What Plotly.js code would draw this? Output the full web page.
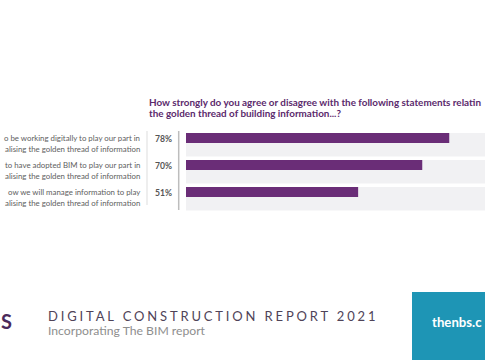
<!DOCTYPE html>
<html>
<head>
<meta charset="utf-8">
<script src="https://cdn.plot.ly/plotly-3.0.1.min.js"></script>
<style>html,body{margin:0;padding:0;background:#fff;}#chart{width:485px;height:360px;}</style>
</head>
<body>
<div id="chart"></div>
<script>
// ---- data ----
var categories = ["digital", "bim", "manage"];
var labelLine1 = ["o be working digitally to play our part in", "to have adopted BIM to play our part in", "ow we will manage information to play"];
var labelLine2 = ["alising the golden thread of information", "alising the golden thread of information", "alising the golden thread of information"];
var values = [78, 70, 51];
var fullScale = [100, 100, 100];
var valueLabels = ["78%", "70%", "51%"];
var titleLines = ["How strongly do you agree or disagree with the following statements relatin", "the golden thread of building information...?"];

// ---- layout helpers (pixels -> paper) ----
var W = 485, H = 360;
function px(x){ return x / W; }
function py(y){ return 1 - y / H; }

var purple = "#6a2d77";
var traces = [
  {type: "bar", orientation: "h", y: categories, x: fullScale, marker: {color: "#f1f1f3", line: {width: 0}},
   width: 0.87, offset: -0.43, hoverinfo: "skip", showlegend: false},
  {type: "bar", orientation: "h", y: categories, x: values, marker: {color: purple, line: {width: 0}},
   width: 0.37, offset: -0.43, hoverinfo: "skip", showlegend: false}
];

var labelFont = {family: "Lato", size: 7.85, color: "#5e5e5e"};
var annotations = [];
for (var i = 0; i < categories.length; i++) {
  annotations.push({xref: "paper", yref: "y", x: px(141.5), y: categories[i], xanchor: "right", yanchor: "middle",
    text: labelLine1[i], showarrow: false, yshift: 6.6, font: labelFont});
  annotations.push({xref: "paper", yref: "y", x: px(141.5), y: categories[i], xanchor: "right", yanchor: "middle",
    text: labelLine2[i], showarrow: false, yshift: -4.4, font: labelFont});
  annotations.push({xref: "paper", yref: "y", x: px(163), y: categories[i], xanchor: "center", yanchor: "middle",
    text: "<b>" + valueLabels[i] + "</b>", showarrow: false, yshift: 5.6, font: {family: "Lato", size: 8.6, color: "#555555"}});
}
annotations.push({xref: "paper", yref: "paper", x: px(147), y: py(102), xanchor: "left", yanchor: "middle",
  text: "<b>" + titleLines[0] + "</b>", showarrow: false, font: {family: "Lato", size: 9.9, color: "#5b2a6c"}});
annotations.push({xref: "paper", yref: "paper", x: px(147), y: py(112.5), xanchor: "left", yanchor: "middle",
  text: "<b>" + titleLines[1] + "</b>", showarrow: false, font: {family: "Lato", size: 9.9, color: "#5b2a6c"}});
// footer
annotations.push({xref: "paper", yref: "paper", x: px(-1.5), y: py(321), xanchor: "left", yanchor: "middle",
  text: "<b>S</b>", showarrow: false, font: {family: "Lato", size: 20, color: "#4b2a5c"}});
annotations.push({xref: "paper", yref: "paper", x: px(46), y: py(316), xanchor: "left", yanchor: "middle",
  text: "DIGITAL CONSTRUCTION REPORT 2021", showarrow: false, font: {family: "Lato", size: 13, color: "#4f4358"}});
annotations.push({xref: "paper", yref: "paper", x: px(46), y: py(330.5), xanchor: "left", yanchor: "middle",
  text: "Incorporating The BIM report", showarrow: false, font: {family: "Lato", size: 12.2, color: "#8e8e8e"}});
annotations.push({xref: "paper", yref: "paper", x: px(430), y: py(322), xanchor: "left", yanchor: "middle",
  text: "<b>thenbs.c</b>", showarrow: false, font: {family: "Lato", size: 13.2, color: "#ffffff"}});

var shapes = [
  {type: "line", xref: "paper", yref: "paper", x0: px(147), x1: px(147), y0: py(131), y1: py(205), line: {color: "#dddddd", width: 1}},
  {type: "line", xref: "paper", yref: "paper", x0: px(178.7), x1: px(178.7), y0: py(131), y1: py(210), line: {color: "#bdbdbd", width: 1.5}},
  {type: "rect", xref: "paper", yref: "paper", x0: px(412), x1: px(486), y0: py(292), y1: py(361), line: {width: 0}, fillcolor: "#1e95b5", layer: "below"}
];

var layout = {
  width: W, height: H, margin: {l: 0, r: 0, t: 0, b: 0},
  paper_bgcolor: "#ffffff", plot_bgcolor: "rgba(0,0,0,0)",
  barmode: "overlay", showlegend: false,
  xaxis: {domain: [px(186), 1], range: [0, (W - 186) / 3.375], visible: false, fixedrange: true},
  yaxis: {domain: [py(212.1), py(131.1)], range: [2.5, -0.5], visible: false, type: "category", fixedrange: true},
  annotations: annotations, shapes: shapes
};

Plotly.newPlot("chart", traces, layout, {staticPlot: true, displayModeBar: false}).then(function(){
  var nodes = document.querySelectorAll("#chart .annotation-text");
  nodes.forEach(function(n){
    if (n.textContent === "DIGITAL CONSTRUCTION REPORT 2021") {
      var b0 = n.getBBox();
      n.style.letterSpacing = "2.85px";
      var b1 = n.getBBox();
      var x0 = parseFloat(n.getAttribute("x")) || 0;
      n.setAttribute("x", x0 + (b0.x - b1.x));
    }
  });
});
</script>
</body>
</html>
